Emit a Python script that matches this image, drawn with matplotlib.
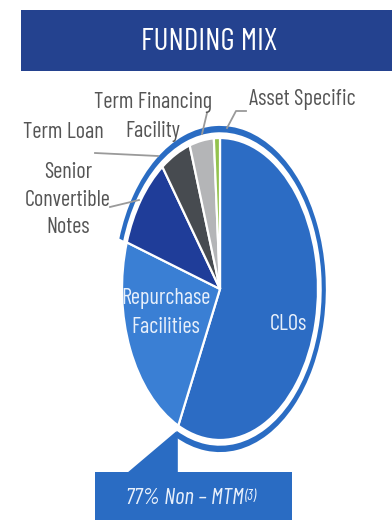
import matplotlib
matplotlib.use("Agg")
import matplotlib.pyplot as plt
from matplotlib.patches import Wedge, Rectangle, Polygon
import numpy as np

# Funding sources (% of total), clockwise from 12 o'clock
categories = ["CLOs", "Repurchase Facilities", "Senior Convertible Notes",
              "Term Loan", "Term Financing Facility", "Asset Specific"]
shares = [57, 23, 10, 5, 4, 1]
colors = ["#2c6cc4", "#3a7fd4", "#1f3d99", "#474b50", "#b4b5b7", "#93c24e"]
mark_to_market = [False, True, False, False, False, False]

FONT = ["Barlow Condensed", "Roboto Condensed", "DejaVu Sans"]
WT = "normal"
W, H = 392, 520
fig = plt.figure(figsize=(W / 100, H / 100), dpi=100)
fig.patch.set_facecolor("white")

# pie geometry in pixels (stretched vertically)
cx, cy, rx, ry = 220, 289, 98, 151
lim = 1.25
pax = fig.add_axes([(cx - lim * rx) / W, (H - (cy + lim * ry)) / H,
                    2 * lim * rx / W, 2 * lim * ry / H])
wedges, _ = pax.pie(shares, colors=colors, startangle=90, counterclock=False,
                    wedgeprops=dict(edgecolor="white", linewidth=1.6))
pax.set_aspect("auto")
pax.set_xlim(-lim, lim)
pax.set_ylim(-lim, lim)
pax.axis("off")

# outer arc spanning the non mark-to-market share
total = float(sum(shares))
cum = np.concatenate([[0], np.cumsum(shares)]) / total * 360.0
non_mtm = sum(s for s, m in zip(shares, mark_to_market) if not m)
mtm_idx = mark_to_market.index(True)
arc_start_cw = cum[mtm_idx + 1]          # clockwise angle from top
arc_end_cw = cum[mtm_idx] + 360.0
theta1 = 90 - arc_end_cw
theta2 = 90 - arc_start_cw
r_out, r_w = 1.08, 0.042
pax.add_patch(Wedge((0, 0), r_out, theta1, theta2, width=r_w,
                    facecolor="#2a6cc3", edgecolor="none"))

# overlay in pixel coordinates
ov = fig.add_axes([0, 0, 1, 1])
ov.set_xlim(0, W)
ov.set_ylim(H, 0)
ov.axis("off")

# header band
ov.add_patch(Rectangle((21, 10), W - 21, 61, facecolor="#24428f", edgecolor="none"))
ov.text(209, 42, "FUNDING MIX", color="white", fontsize=22.5, family=FONT,
        weight=WT, ha="center", va="center")

# slice labels inside
ov.text(288, 324, "CLOs", color="#e8f0fb", fontsize=16, family=FONT,
        weight=WT, ha="center", va="center")
ov.text(166, 313, "Repurchase\nFacilities", color="#e8f0fb", fontsize=16,
        family=FONT, weight=WT, ha="center", va="center", linespacing=1.45)

# outside labels with leaders
lab_col = "#555555"
lead_col = "#9a9a9a"
ov.text(153, 117, "Term Financing\nFacility", color=lab_col, fontsize=16,
        family=FONT, weight=WT, ha="center", va="center", linespacing=1.5)
ov.text(302, 100, "Asset Specific", color=lab_col, fontsize=16, family=FONT,
        weight=WT, ha="center", va="center")
ov.text(63, 133, "Term Loan", color=lab_col, fontsize=16, family=FONT,
        weight=WT, ha="center", va="center")
ov.text(68, 200, "Senior\nConvertible\nNotes", color=lab_col, fontsize=16,
        family=FONT, weight=WT, ha="center", va="center", linespacing=1.38)

ov.plot([207, 202], [113, 134], color=lead_col, lw=1.3)
ov.plot([246, 236, 227], [111, 111, 128], color=lead_col, lw=1.3)
ov.plot([95, 158], [153, 156], color=lead_col, lw=1.3)
ov.plot([110, 139], [207, 200], color=lead_col, lw=1.3)

# callout box tied to the end of the arc
r_mid = r_out - r_w / 2
tip_x = cx + r_mid * rx * np.cos(np.radians(theta1))
tip_y = cy - r_mid * ry * np.sin(np.radians(theta1))
box_col = "#2a6cc3"
ov.add_patch(Polygon([(127, 473), (tip_x, tip_y - 2), (tip_x + 2, tip_y),
                      (tip_x + 2, 473)], closed=True, facecolor=box_col,
                     edgecolor="none"))
ov.add_patch(Rectangle((95, 472), 197, 50, facecolor=box_col, edgecolor="none"))
main = ov.text(185, 499, f"{non_mtm:.0f}% Non \u2013 MTM", color="#e8f0fb",
               fontsize=16.5, family=FONT, weight=WT, style="italic",
               ha="center", va="center")
ov.annotate("(3)", xy=(1, 1), xycoords=main, xytext=(0.5, 0),
            textcoords="offset points", color="#e8f0fb", fontsize=10.5,
            family=FONT, weight=WT, style="italic", ha="left", va="top")

fig.savefig("out.png", dpi=100, facecolor="white")
